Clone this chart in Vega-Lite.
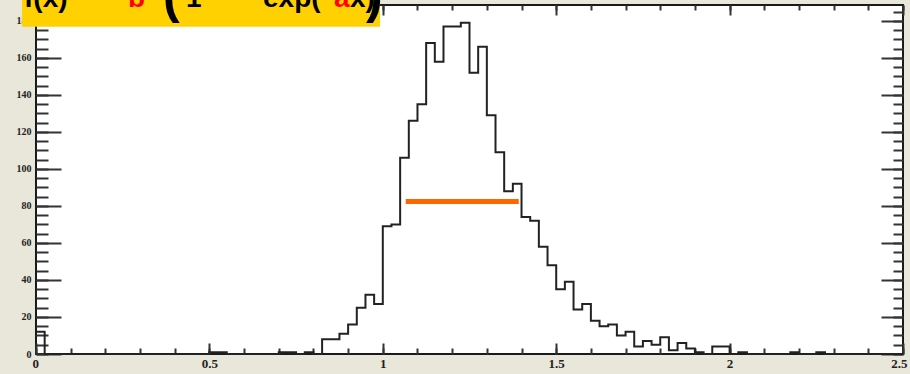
{
  "$schema": "https://vega.github.io/schema/vega-lite/v6.json",
  "autosize": "none",
  "width": 867,
  "height": 349,
  "padding": {"left": 36, "top": 5, "right": 7, "bottom": 20},
  "background": "#E9E6DA",
  "config": {
    "view": {"fill": "#FFFFFF", "stroke": "#1A1A1A", "strokeWidth": 2},
    "axis": {"domain": false, "grid": false, "title": null, "tickColor": "#333333", "tickWidth": 2, "labelColor": "#222222", "labelFont": "Liberation Sans Narrow", "labelFontWeight": "bold", "zindex": 0}
  },
  "datasets": {
    "hist": [
      {"x": 0.000, "count": 12}, {"x": 0.025, "count": 0}, {"x": 0.050, "count": 0}, {"x": 0.075, "count": 0},
      {"x": 0.100, "count": 0}, {"x": 0.125, "count": 0}, {"x": 0.150, "count": 0}, {"x": 0.175, "count": 0},
      {"x": 0.200, "count": 0}, {"x": 0.225, "count": 0}, {"x": 0.250, "count": 0}, {"x": 0.275, "count": 0},
      {"x": 0.300, "count": 0}, {"x": 0.325, "count": 0}, {"x": 0.350, "count": 0}, {"x": 0.375, "count": 0},
      {"x": 0.400, "count": 0}, {"x": 0.425, "count": 0}, {"x": 0.450, "count": 0}, {"x": 0.475, "count": 0},
      {"x": 0.500, "count": 1}, {"x": 0.525, "count": 1}, {"x": 0.550, "count": 0}, {"x": 0.575, "count": 0},
      {"x": 0.600, "count": 0}, {"x": 0.625, "count": 0}, {"x": 0.650, "count": 0}, {"x": 0.675, "count": 0},
      {"x": 0.700, "count": 1}, {"x": 0.725, "count": 1}, {"x": 0.750, "count": 0}, {"x": 0.775, "count": 1},
      {"x": 0.800, "count": 0}, {"x": 0.825, "count": 8}, {"x": 0.850, "count": 8}, {"x": 0.875, "count": 11},
      {"x": 0.900, "count": 16}, {"x": 0.925, "count": 25}, {"x": 0.950, "count": 32}, {"x": 0.975, "count": 27},
      {"x": 1.000, "count": 69}, {"x": 1.025, "count": 70}, {"x": 1.050, "count": 106}, {"x": 1.075, "count": 126},
      {"x": 1.100, "count": 135}, {"x": 1.125, "count": 168}, {"x": 1.150, "count": 158}, {"x": 1.175, "count": 177},
      {"x": 1.200, "count": 177}, {"x": 1.225, "count": 179}, {"x": 1.250, "count": 152}, {"x": 1.275, "count": 166},
      {"x": 1.300, "count": 129}, {"x": 1.325, "count": 109}, {"x": 1.350, "count": 88}, {"x": 1.375, "count": 92},
      {"x": 1.400, "count": 74}, {"x": 1.425, "count": 72}, {"x": 1.450, "count": 58}, {"x": 1.475, "count": 48},
      {"x": 1.500, "count": 35}, {"x": 1.525, "count": 39}, {"x": 1.550, "count": 24}, {"x": 1.575, "count": 27},
      {"x": 1.600, "count": 18}, {"x": 1.625, "count": 15}, {"x": 1.650, "count": 16}, {"x": 1.675, "count": 10},
      {"x": 1.700, "count": 12}, {"x": 1.725, "count": 4}, {"x": 1.750, "count": 7}, {"x": 1.775, "count": 5},
      {"x": 1.800, "count": 9}, {"x": 1.825, "count": 2}, {"x": 1.850, "count": 6}, {"x": 1.875, "count": 3},
      {"x": 1.900, "count": 1}, {"x": 1.925, "count": 0}, {"x": 1.950, "count": 4}, {"x": 1.975, "count": 4},
      {"x": 2.000, "count": 0}, {"x": 2.025, "count": 1}, {"x": 2.050, "count": 0}, {"x": 2.075, "count": 0},
      {"x": 2.100, "count": 0}, {"x": 2.125, "count": 0}, {"x": 2.150, "count": 0}, {"x": 2.175, "count": 1},
      {"x": 2.200, "count": 0}, {"x": 2.225, "count": 0}, {"x": 2.250, "count": 1}, {"x": 2.275, "count": 0},
      {"x": 2.300, "count": 0}, {"x": 2.325, "count": 0}, {"x": 2.350, "count": 0}, {"x": 2.375, "count": 0},
      {"x": 2.400, "count": 0}, {"x": 2.425, "count": 0}, {"x": 2.450, "count": 0}, {"x": 2.475, "count": 0},
      {"x": 2.500, "count": 0}
    ],
    "band": [{"start": 1.066, "end": 1.392, "level": 82.4}],
    "box": [{"x0": -0.0404, "x1": 0.992, "y0": 176.8, "y1": 191.4}],
    "formula": [
      {"x": -0.0346, "y": 191.6, "text": "f(x)"},
      {"x": 0.4325, "y": 191.6, "text": "1 −"},
      {"x": 0.6546, "y": 191.6, "text": "exp(−"},
      {"x": 0.9054, "y": 191.6, "text": "x)"}
    ],
    "formulaRed": [
      {"x": 0.2653, "y": 191.6, "text": "b"},
      {"x": 0.8593, "y": 191.6, "text": "a"}
    ],
    "parens": [
      {"x": 0.3662, "y": 192.4, "text": "("},
      {"x": 0.9516, "y": 192.4, "text": ")"}
    ]
  },
  "layer": [
    {
      "data": {"name": "hist"},
      "mark": {"type": "line", "interpolate": "step-after", "color": "#222222", "strokeWidth": 2},
      "encoding": {
        "x": {"field": "x", "type": "quantitative", "scale": {"domain": [0, 2.5], "nice": false, "zero": false},
              "axis": {"orient": "bottom", "values": [0, 0.5, 1, 1.5, 2, 2.5], "format": "~g", "tickSize": -11, "labelPadding": 14, "labelFontSize": 13, "labelFlush": true, "labelFlushOffset": 4}},
        "y": {"field": "count", "type": "quantitative", "scale": {"domain": [0, 188.6], "nice": false, "zero": false},
              "axis": {"orient": "left", "values": [0, 20, 40, 60, 80, 100, 120, 140, 160, 180], "tickSize": -25, "labelPadding": 30, "labelFontSize": 10}}
      }
    },
    {
      "data": {"name": "band"},
      "mark": {"type": "rule", "color": "#FF6600", "strokeWidth": 5, "strokeCap": "butt"},
      "encoding": {
        "x": {"field": "start", "type": "quantitative", "scale": {"domain": [0, 2.5], "nice": false, "zero": false},
              "axis": {"orient": "bottom", "values": [0, 0.1, 0.2, 0.3, 0.4, 0.5, 0.6, 0.7, 0.8, 0.9, 1, 1.1, 1.2, 1.3, 1.4, 1.5, 1.6, 1.7, 1.8, 1.9, 2, 2.1, 2.2, 2.3, 2.4, 2.5], "tickSize": -6, "labels": false}},
        "x2": {"field": "end"},
        "y": {"field": "level", "type": "quantitative", "scale": {"domain": [0, 188.6], "nice": false, "zero": false},
              "axis": {"orient": "left", "values": [0, 5, 10, 15, 20, 25, 30, 35, 40, 45, 50, 55, 60, 65, 70, 75, 80, 85, 90, 95, 100, 105, 110, 115, 120, 125, 130, 135, 140, 145, 150, 155, 160, 165, 170, 175, 180, 185], "tickSize": -12, "labels": false}}
      }
    },
    {
      "data": {"name": "box"},
      "mark": {"type": "rect", "color": "#FFD100"},
      "encoding": {
        "x": {"field": "x0", "type": "quantitative", "scale": {"domain": [0, 2.5], "nice": false, "zero": false},
              "axis": {"orient": "top", "values": [0, 0.5, 1, 1.5, 2, 2.5], "tickSize": -10, "labels": false}},
        "x2": {"field": "x1"},
        "y": {"field": "y0", "type": "quantitative", "scale": {"domain": [0, 188.6], "nice": false, "zero": false},
              "axis": {"orient": "right", "values": [0, 20, 40, 60, 80, 100, 120, 140, 160, 180], "tickSize": -22, "labels": false}},
        "y2": {"field": "y1"}
      }
    },
    {
      "data": {"name": "formula"},
      "mark": {"type": "text", "align": "left", "baseline": "middle", "font": "Liberation Sans", "fontWeight": "bold", "fontSize": 28, "color": "#000000"},
      "encoding": {
        "x": {"field": "x", "type": "quantitative", "scale": {"domain": [0, 2.5], "nice": false, "zero": false},
              "axis": {"orient": "top", "values": [0, 0.1, 0.2, 0.3, 0.4, 0.5, 0.6, 0.7, 0.8, 0.9, 1, 1.1, 1.2, 1.3, 1.4, 1.5, 1.6, 1.7, 1.8, 1.9, 2, 2.1, 2.2, 2.3, 2.4, 2.5], "tickSize": -5, "labels": false}},
        "y": {"field": "y", "type": "quantitative", "scale": {"domain": [0, 188.6], "nice": false, "zero": false},
              "axis": {"orient": "right", "values": [0, 5, 10, 15, 20, 25, 30, 35, 40, 45, 50, 55, 60, 65, 70, 75, 80, 85, 90, 95, 100, 105, 110, 115, 120, 125, 130, 135, 140, 145, 150, 155, 160, 165, 170, 175, 180, 185], "tickSize": -10, "labels": false}},
        "text": {"field": "text"}
      }
    },
    {
      "data": {"name": "formulaRed"},
      "mark": {"type": "text", "align": "left", "baseline": "middle", "font": "Liberation Sans", "fontWeight": "bold", "fontSize": 28, "color": "#FF0000"},
      "encoding": {
        "x": {"field": "x", "type": "quantitative", "scale": {"domain": [0, 2.5], "nice": false, "zero": false}, "axis": null},
        "y": {"field": "y", "type": "quantitative", "scale": {"domain": [0, 188.6], "nice": false, "zero": false}, "axis": null},
        "text": {"field": "text"}
      }
    },
    {
      "data": {"name": "parens"},
      "mark": {"type": "text", "align": "left", "baseline": "middle", "font": "Liberation Sans", "fontWeight": "bold", "fontSize": 50, "color": "#000000"},
      "encoding": {
        "x": {"field": "x", "type": "quantitative", "scale": {"domain": [0, 2.5], "nice": false, "zero": false}, "axis": null},
        "y": {"field": "y", "type": "quantitative", "scale": {"domain": [0, 188.6], "nice": false, "zero": false}, "axis": null},
        "text": {"field": "text"}
      }
    }
  ],
  "resolve": {"axis": {"x": "independent", "y": "independent"}}
}
